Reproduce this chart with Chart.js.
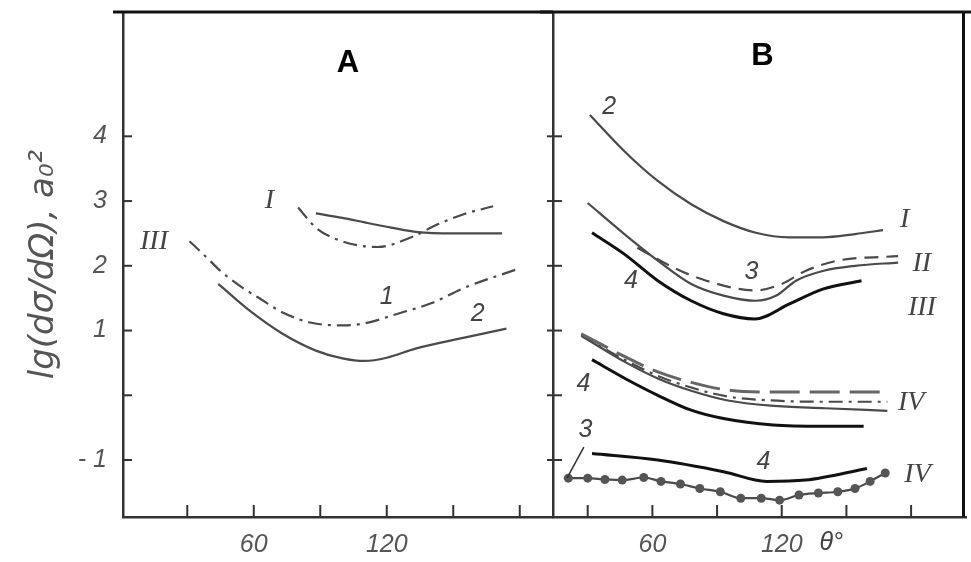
<!DOCTYPE html>
<html>
<head>
<meta charset="utf-8">
<script src="https://cdn.jsdelivr.net/npm/chart.js@4.4.1/dist/chart.umd.min.js"></script>
<style>
  html, body { margin: 0; padding: 0; background: #fff; }
  #wrap { position: relative; width: 971px; height: 562px; overflow: hidden; background: #fff; }
  #boxA { position: absolute; left: 0; top: 0; width: 553px; height: 562px; }
  #boxB { position: absolute; left: 540px; top: 0; width: 431px; height: 562px; }
</style>
</head>
<body>
<div id="wrap">
  <div id="boxA"><canvas id="chartA"></canvas></div>
  <div id="boxB"><canvas id="chartB"></canvas></div>
</div>
<script>
// --- data (angle in degrees, lg of cross-section) ---
const yTicks = [-1, 0, 1, 2, 3, 4];
const yTickLabels = ['- 1', '', '1', '2', '3', '4'];
const xTicks = [30, 60, 90, 120, 150, 180];
const xTickLabels = ['', '60', '', '120', '', ''];

// panel A
const aIsolidX = [88, 100, 110, 122, 134, 150, 172];
const aIsolidY = [2.81, 2.74, 2.67, 2.59, 2.52, 2.50, 2.50];
const aIdashX = [80, 88, 98, 116, 131, 143, 155, 168];
const aIdashY = [2.90, 2.59, 2.40, 2.29, 2.44, 2.64, 2.80, 2.92];
const a1X = [31, 39, 45, 55, 62, 73, 86, 100, 110, 125, 140, 155, 179];
const a1Y = [2.38, 2.12, 1.92, 1.66, 1.51, 1.28, 1.12, 1.08, 1.11, 1.26, 1.42, 1.66, 1.95];
const a2X = [44, 58, 73, 88, 100, 110, 120, 133, 155, 174];
const a2Y = [1.72, 1.31, 0.95, 0.69, 0.57, 0.53, 0.58, 0.72, 0.89, 1.03];

// panel B
const bIX = [31, 47, 62.5, 78, 93, 108, 123.5, 139, 154, 167];
const bIY = [4.33, 3.77, 3.31, 2.95, 2.69, 2.51, 2.44, 2.44, 2.49, 2.55];
const bIIX = [30, 47, 62.5, 78, 93, 108, 117.5, 126.6, 139, 154, 174];
const bIIY = [2.97, 2.49, 2.08, 1.72, 1.54, 1.46, 1.54, 1.77, 1.92, 2.00, 2.05];
const bII3X = [53, 70, 85, 108, 120, 131, 146, 174];
const bII3Y = [2.28, 1.97, 1.77, 1.62, 1.72, 1.92, 2.08, 2.15];
const bIII4X = [32, 47, 62.5, 78, 93, 107.6, 123.6, 139, 157];
const bIII4Y = [2.51, 2.18, 1.77, 1.46, 1.26, 1.18, 1.41, 1.64, 1.77];
const bIVdashX = [27, 47, 62.5, 78, 95, 115, 169];
const bIVdashY = [0.95, 0.60, 0.36, 0.20, 0.08, 0.05, 0.05];
const bIVdotX = [27, 47, 62.5, 78, 95, 115, 140, 169];
const bIVdotY = [0.93, 0.55, 0.30, 0.12, -0.02, -0.08, -0.10, -0.10];
const bIVthinX = [27, 47, 62.5, 78, 95, 115, 140, 169];
const bIVthinY = [0.92, 0.52, 0.26, 0.07, -0.08, -0.16, -0.20, -0.24];
const bIV4X = [32, 47.3, 62.5, 78, 93, 116, 139, 158];
const bIV4Y = [0.55, 0.26, 0.00, -0.23, -0.36, -0.46, -0.48, -0.48];
const bV4X = [32, 62.5, 93, 113, 131, 159.5];
const bV4Y = [-0.90, -1.00, -1.18, -1.33, -1.31, -1.13];
const bV3X = [21, 30, 38, 46, 56, 64, 73, 82, 91.5, 101, 110.5, 119, 128, 137, 146, 154, 161, 168];
const bV3Y = [-1.28, -1.28, -1.30, -1.31, -1.27, -1.33, -1.37, -1.44, -1.49, -1.59, -1.59, -1.62, -1.54, -1.51, -1.49, -1.44, -1.33, -1.20];

// curve captions
const notesA = [
  { t: 'I', x: 67, y: 3.0, roman: true },
  { t: 'III', x: 15, y: 2.38, roman: true },
  { t: '1', x: 120, y: 1.52 },
  { t: '2', x: 161, y: 1.25 }
];
const notesB = [
  { t: '2', x: 40, y: 4.45 },
  { t: 'I', x: 177, y: 2.72, roman: true },
  { t: 'II', x: 185, y: 2.03, roman: true },
  { t: 'III', x: 185, y: 1.35, roman: true },
  { t: '3', x: 106, y: 1.9 },
  { t: '4', x: 50, y: 1.77 },
  { t: '4', x: 28, y: 0.18 },
  { t: 'IV', x: 180, y: -0.12, roman: true },
  { t: '3', x: 29, y: -0.54 },
  { t: '4', x: 111.5, y: -1.03 },
  { t: 'IV', x: 183, y: -1.23, roman: true }
];

const yMin = -1.88, yMax = 5.92;

const pts = (xs, ys) => xs.map((x, i) => ({ x: x, y: ys[i] }));
const numFont = "'Liberation Sans Narrow', 'Liberation Sans', sans-serif";
const romanFont = "'Liberation Serif', serif";

const solid = { borderColor: '#4a4a4a', borderWidth: 2.2 };
const thick = { borderColor: '#111', borderWidth: 3 };
const dashDot = { borderColor: '#4a4a4a', borderWidth: 2.2, borderDash: [14, 6, 3, 6] };
const dashed = { borderColor: '#4a4a4a', borderWidth: 2.2, borderDash: [14, 8] };

function line(ctx, x1, y1, x2, y2) {
  ctx.beginPath(); ctx.moveTo(x1, y1); ctx.lineTo(x2, y2); ctx.stroke();
}

const frame = {
  id: 'frame',
  afterDraw(chart, args, opts) {
    const { ctx, chartArea: a, scales: { x, y } } = chart;
    ctx.save();
    ctx.strokeStyle = '#333';
    ctx.lineWidth = 2;
    yTicks.forEach(v => {
      const py = y.getPixelForValue(v);
      line(ctx, a.left - opts.tickOut, py, a.left + 9, py);
    });
    xTicks.forEach(v => {
      const px = x.getPixelForValue(v);
      line(ctx, px, a.bottom, px, a.bottom - 12);
    });
    ctx.strokeStyle = '#111';
    ctx.lineWidth = 3;
    line(ctx, a.left - opts.topFrom, a.top, chart.width, a.top);
    if (opts.rightEdge) line(ctx, a.right - 3, a.top, a.right - 3, a.bottom);

    // panel letter
    ctx.fillStyle = '#000';
    ctx.font = "bold 31px 'Liberation Sans', sans-serif";
    ctx.textAlign = 'center';
    ctx.textBaseline = 'middle';
    ctx.fillText(opts.letter, x.getPixelForValue(opts.letterX), y.getPixelForValue(opts.letterY));

    // curve captions
    ctx.fillStyle = '#444';
    opts.notes.forEach(n => {
      ctx.font = n.roman ? 'italic 28px ' + romanFont : 'italic 25px ' + numFont;
      ctx.fillText(n.t, x.getPixelForValue(n.x), y.getPixelForValue(n.y));
    });
    if (opts.theta) {
      ctx.font = 'italic 25px ' + numFont;
      ctx.fillText('θ°', x.getPixelForValue(143), a.bottom + 26);
      ctx.strokeStyle = '#333';
      ctx.lineWidth = 1.5;
      line(ctx, x.getPixelForValue(28.2), y.getPixelForValue(-0.8), x.getPixelForValue(20.4), y.getPixelForValue(-1.28));
    }
    ctx.restore();
  }
};

function curve(xs, ys, style) {
  return Object.assign({
    data: pts(xs, ys), pointRadius: 0, fill: false,
    tension: 0.4, cubicInterpolationMode: 'monotone'
  }, style);
}

function xScale(min, max) {
  return {
    type: 'linear', min: min, max: max,
    afterBuildTicks: s => { s.ticks = xTicks.map(v => ({ value: v })); },
    afterFit: s => { s.height = 45; s.paddingLeft = 0; s.paddingRight = 0; },
    grid: { display: false, drawTicks: false },
    border: { display: true, color: '#333', width: 2.5 },
    ticks: {
      autoSkip: false, maxRotation: 0, padding: 13, color: '#555',
      font: { family: numFont, style: 'italic', size: 25 },
      callback: v => xTickLabels[xTicks.indexOf(v)]
    }
  };
}

const common = {
  responsive: true,
  maintainAspectRatio: false,
  animation: false,
  events: [],
  plugins: { legend: { display: false }, tooltip: { enabled: false } }
};

new Chart(document.getElementById('chartA'), {
  type: 'line',
  data: {
    datasets: [
      curve(aIsolidX, aIsolidY, solid),
      curve(aIdashX, aIdashY, dashDot),
      curve(a1X, a1Y, dashDot),
      curve(a2X, a2Y, solid)
    ]
  },
  options: Object.assign({}, common, {
    layout: { padding: { top: 12, left: 0, right: 0, bottom: 0 } },
    scales: {
      x: xScale(1, 195),
      y: {
        type: 'linear', min: yMin, max: yMax,
        afterBuildTicks: s => { s.ticks = yTicks.map(v => ({ value: v })); },
        afterFit: s => { s.width = 123; s.paddingTop = 0; s.paddingBottom = 0; },
        grid: { display: false, drawTicks: false },
        border: { display: true, color: '#333', width: 2.5 },
        ticks: {
          padding: 16, color: '#555',
          font: { family: numFont, style: 'italic', size: 25 },
          callback: v => yTickLabels[yTicks.indexOf(v)]
        },
        title: {
          display: true, text: 'lg(dσ/dΩ), a₀²', color: '#555',
          font: { family: "'DejaVu Sans', sans-serif", style: 'italic', size: 34 },
          padding: { top: 24, bottom: 0 }
        }
      }
    },
    plugins: Object.assign({}, common.plugins, {
      frame: { tickOut: 0, topFrom: 10, rightEdge: false, letter: 'A', letterX: 102.5, letterY: 5.13, notes: notesA, theta: false }
    })
  }),
  plugins: [frame]
});

new Chart(document.getElementById('chartB'), {
  type: 'line',
  data: {
    datasets: [
      curve(bIX, bIY, solid),
      curve(bIIX, bIIY, solid),
      curve(bII3X, bII3Y, dashed),
      curve(bIII4X, bIII4Y, thick),
      curve(bIVdashX, bIVdashY, Object.assign({}, dashed, { borderWidth: 3, borderColor: '#666', borderDash: [30, 10] })),
      curve(bIVdotX, bIVdotY, dashDot),
      curve(bIVthinX, bIVthinY, solid),
      curve(bIV4X, bIV4Y, thick),
      curve(bV4X, bV4Y, thick),
      Object.assign(curve(bV3X, bV3Y, solid), {
        pointRadius: 4.5, pointBackgroundColor: '#555', pointBorderColor: '#555', pointBorderWidth: 0
      })
    ]
  },
  options: Object.assign({}, common, {
    layout: { padding: { top: 12, left: 0, right: 0, bottom: 0 } },
    scales: {
      x: xScale(13.9, 205.7),
      y: {
        type: 'linear', min: yMin, max: yMax,
        afterBuildTicks: s => { s.ticks = yTicks.map(v => ({ value: v })); },
        afterFit: s => { s.width = 13; s.paddingTop = 0; s.paddingBottom = 0; },
        grid: { display: false, drawTicks: false },
        border: { display: true, color: '#333', width: 2.5 },
        ticks: { display: false }
      }
    },
    plugins: Object.assign({}, common.plugins, {
      frame: { tickOut: 6, topFrom: 13, rightEdge: true, letter: 'B', letterX: 111, letterY: 5.24, notes: notesB, theta: true }
    })
  }),
  plugins: [frame]
});
</script>
</body>
</html>
